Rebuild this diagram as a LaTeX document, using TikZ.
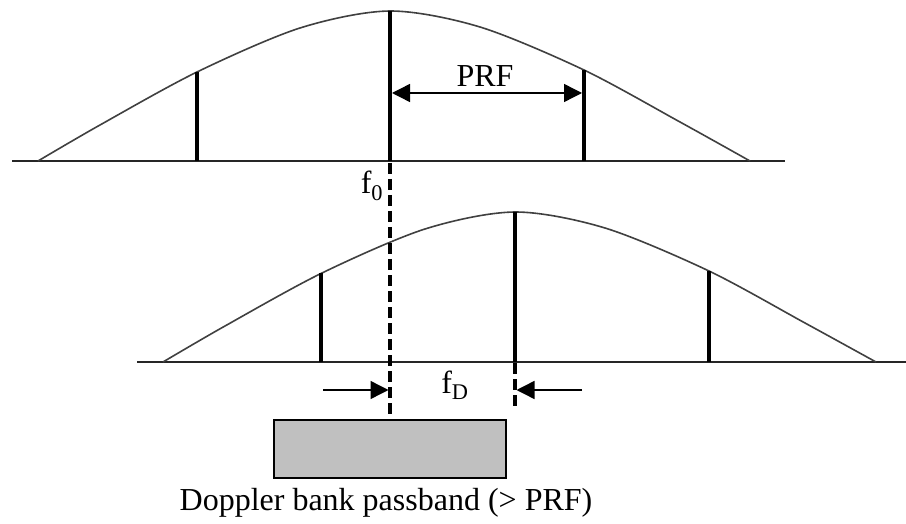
\documentclass[tikz,border=0pt]{standalone}
\usepackage{fontspec}
\setmainfont{Liberation Serif}
\usetikzlibrary{arrows.meta}
\definecolor{boxgray}{RGB}{192,192,192}
\begin{document}
\begin{tikzpicture}[x=1pt,y=-1pt,
  base/.style={line width=1.8pt, black!85},
  bell/.style={line width=1.6pt, black!75},
  spike/.style={line width=3.5pt},
  marker/.style={line width=3.3pt, dash pattern=on 11pt off 5pt},
  dimarrow/.style={line width=1.4pt, -{Triangle[length=18pt,width=18pt]}},
  lab/.style={font=\fontsize{32}{36}\selectfont, inner sep=0pt},
  bankbox/.style={draw, line width=2pt, fill=boxgray}]
\useasboundingbox (0,0) rectangle (906,524);
% ---------- top spectrum ----------
\draw[base] (12,161) -- (785,161);
\draw[bell] plot[smooth] coordinates {(38,161) (100,125) (197,72) (300,28) (390,11) (480,27) (584,70) (680,122) (750,161)};
\coordinate (tL) at (197,161); \coordinate (tLtop) at (197,72);
\coordinate (tC) at (390,161); \coordinate (tCtop) at (390,11);
\coordinate (tR) at (584,161); \coordinate (tRtop) at (584,70);
\draw[spike] (tL) -- (tLtop);
\draw[spike] (tC) -- (tCtop);
\draw[spike] (tR) -- (tRtop);
\coordinate (prfL) at (392,93); \coordinate (prfR) at (582,93);
\draw[line width=1.4pt, {Triangle[length=18pt,width=18pt]}-{Triangle[length=18pt,width=18pt]}] (prfL) -- (prfR);
\node[lab] (prf) at (485,76) {PRF};
% ---------- bottom spectrum ----------
\draw[base] (137,362) -- (906,362);
\draw[bell] plot[smooth] coordinates {(163,362) (225,326) (322,273) (425,229) (515,212) (605,228) (709,271) (805,323) (876,362)};
\coordinate (bL) at (321,362); \coordinate (bLtop) at (321,273);
\coordinate (bC) at (515,362); \coordinate (bCtop) at (515,212);
\coordinate (bR) at (709,362); \coordinate (bRtop) at (709,271);
\draw[spike] (bL) -- (bLtop);
\draw[spike] (bC) -- (bCtop);
\draw[spike] (bR) -- (bRtop);
% ---------- markers ----------
\node[bankbox, minimum width=232pt, minimum height=58pt, inner sep=0pt, anchor=north west] (bank) at (273,419) {};
\coordinate (f0top) at (390,163);
\coordinate (f0bot) at (390,418);
\draw[marker] (f0top) -- (f0bot);
\coordinate (fdtop) at (515,363);
\coordinate (fdbot) at (515,410);
\draw[marker] (fdtop) -- (fdbot);
\node[lab] (f0) at (372,186) {f\textsubscript{0}};
\node[lab] (fD) at (455,385) {f\textsubscript{D}};
\coordinate (la) at (323,390); \coordinate (lb) at (388.5,390);
\coordinate (ra) at (582,390); \coordinate (rb) at (516.5,390);
\draw[dimarrow] (la) -- (lb);
\draw[dimarrow] (ra) -- (rb);
\node[lab] (cap) at (386,503) {Doppler bank passband (> PRF)};
\end{tikzpicture}
\end{document}
